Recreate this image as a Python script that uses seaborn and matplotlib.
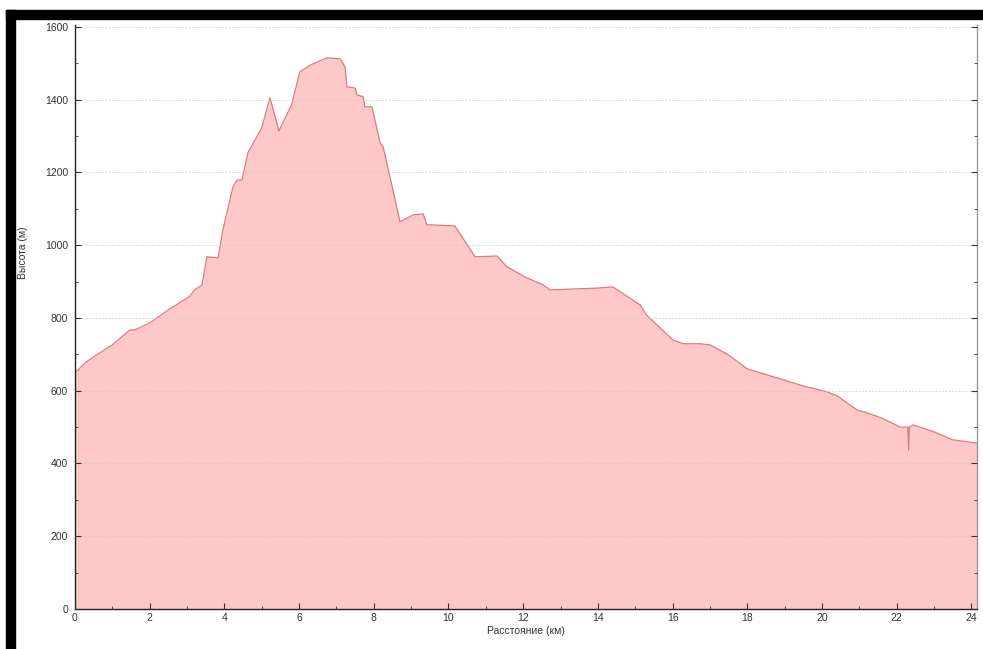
import numpy as np
import pandas as pd
import matplotlib
matplotlib.use("Agg")
import matplotlib.pyplot as plt
from matplotlib.patches import Rectangle
from matplotlib.ticker import MultipleLocator
import seaborn as sns

# Elevation profile
dist_km = [0.0, 0.3, 0.5, 1.0, 1.47, 1.6, 2.0, 2.5, 3.08, 3.2, 3.4, 3.53, 3.83,
           3.96, 4.23, 4.34, 4.47, 4.63, 5.0, 5.22, 5.46, 5.8, 6.02, 6.3, 6.75,
           7.1, 7.23, 7.28, 7.5, 7.55, 7.71, 7.76, 7.95, 8.17, 8.25, 8.51, 8.7,
           9.05, 9.32, 9.42, 10.17, 10.71, 11.3, 11.57, 12.1, 12.53, 12.72,
           14.0, 14.32, 14.4, 15.13, 15.3, 16.0, 16.28, 16.73, 17.0, 17.5,
           18.0, 18.96, 19.5, 20.13, 20.4, 20.94, 21.2, 21.6, 22.09, 22.3,
           22.32, 22.34, 22.44, 23.0, 23.5, 24.0, 24.15]
elev_m = [649, 679, 693, 726, 767, 767, 786, 822, 860, 877, 890, 968, 965,
          1042, 1160, 1179, 1179, 1254, 1322, 1405, 1314, 1386, 1476, 1495, 1515,
          1512, 1490, 1435, 1432, 1413, 1408, 1380, 1380, 1281, 1270, 1152, 1064,
          1083, 1086, 1056, 1053, 968, 970, 940, 910, 891, 877,
          882, 885, 885, 836, 808, 740, 729, 729, 726, 698,
          660, 630, 613, 597, 586, 547, 539, 525, 500, 500,
          437, 500, 506, 487, 465, 458, 456]

y_ticks = [0, 200, 400, 600, 800, 1000, 1200, 1400, 1600]
x_ticks = [0, 2, 4, 6, 8, 10, 12, 14, 16, 18, 20, 22, 24]

df = pd.DataFrame({"dist": dist_km, "elev": elev_m})

sns.set_style("white")
plt.rcParams["font.family"] = ["Liberation Sans", "DejaVu Sans"]

fig = plt.figure(figsize=(9.83, 6.49), dpi=100)
ax = fig.add_axes([75 / 983, 40 / 649, 902 / 983, 584 / 649])

ax.fill_between(df["dist"], df["elev"], color="#ffc8c8", linewidth=0, zorder=1)
sns.lineplot(data=df, x="dist", y="elev", ax=ax, color="#d97a80",
             linewidth=0.9, zorder=2)

ax.set_xlim(0, 24.15)
ax.set_ylim(0, 1605)
ax.set_xticks(x_ticks)
ax.set_yticks(y_ticks)
ax.xaxis.set_minor_locator(MultipleLocator(1))
ax.yaxis.set_minor_locator(MultipleLocator(100))

ax.set_axisbelow(False)
ax.yaxis.grid(True, which="major", color="#c8c8c8", linestyle=(0, (2, 2)),
              linewidth=0.6, alpha=0.9)
ax.xaxis.grid(False)

ax.tick_params(axis="both", which="both", direction="in", labelsize=7.5,
               labelcolor="#333333", color="#333333")
ax.tick_params(axis="both", which="major", length=4, width=0.8)
ax.tick_params(axis="both", which="minor", length=2.5, width=0.6)
ax.tick_params(axis="y", which="both", left=True, right=True, pad=5)
ax.tick_params(axis="x", which="both", bottom=True, top=False)
ax.tick_params(axis="x", which="major", pad=3)

for side in ["left", "bottom"]:
    ax.spines[side].set_color("#222222")
    ax.spines[side].set_linewidth(1.0)
ax.spines["right"].set_color("#999999")
ax.spines["right"].set_linewidth(1.0)
ax.spines["top"].set_visible(False)

ax.set_xlabel("Расстояние (км)", fontsize=7.5, color="#333333", labelpad=2)
ax.set_ylabel("Высота (м)", fontsize=7.5, color="#333333")
ax.yaxis.set_label_coords(-0.052, 0.61)

# black frame pieces along the top and left edges of the picture
fig.patches.append(Rectangle((6 / 983, 1 - 19 / 649), 977 / 983, 9 / 649,
                             transform=fig.transFigure, color="black", zorder=10))
fig.patches.append(Rectangle((6 / 983, 0), 9 / 983, 1 - 10 / 649,
                             transform=fig.transFigure, color="black", zorder=10))

fig.savefig("out.png", dpi=100)
